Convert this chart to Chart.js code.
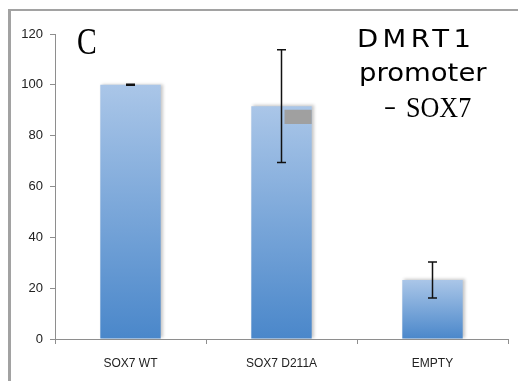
<!DOCTYPE html>
<html>
<head>
<meta charset="utf-8">
<script src="https://cdn.jsdelivr.net/npm/chart.js@4.4.1/dist/chart.umd.min.js"></script>
<style>
  html, body { margin: 0; padding: 0; background: #fff; overflow: hidden; }
  #wrap { position: relative; width: 518px; height: 381px; }
  #frame { position: absolute; left: 8px; top: 9px; width: 600px; height: 600px;
           border-left: 3px solid #a2a2a2; border-top: 2px solid #a2a2a2; }
  canvas { position: absolute; left: 0; top: 0; }
</style>
</head>
<body>
<div id="wrap">
  <div id="frame"></div>
  <canvas id="chart" width="518" height="381"></canvas>
</div>
<script>
const categories = ["SOX7 WT", "SOX7 D211A", "EMPTY"];
const values = [100, 91.6, 23.2];
const errors = [0.2, 22.2, 7.1];
// grey patch sitting on the second bar (range in axis units)
const patchRanges = [null, [84.6, 90.2], null];
const yTicks = [0, 20, 40, 60, 80, 100, 120];

const axisGrey = "#8e8e8e";
const tickFont = { family: "Liberation Sans", size: 12 };

// gradient per bar, light at top, darker blue at base
function barGradient(context) {
  const chart = context.chart;
  const y = chart.scales.y;
  if (!y || context.raw == null) return "#7aa3d6";
  const top = y.getPixelForValue(context.raw);
  const bottom = y.getPixelForValue(0);
  if (!isFinite(top) || !isFinite(bottom) || top === bottom) return "#7aa3d6";
  const g = chart.ctx.createLinearGradient(0, top, 0, bottom);
  g.addColorStop(0, "#aac6e8");
  g.addColorStop(1, "#4a87ca");
  return g;
}

const shadowPlugin = {
  id: "barShadow",
  beforeDatasetsDraw(chart) {
    const ctx = chart.ctx;
    ctx.save();
    ctx.shadowColor = "rgba(0,0,0,0.22)";
    ctx.shadowOffsetX = 2;
    ctx.shadowOffsetY = -1;
    ctx.shadowBlur = 3;
  },
  afterDatasetsDraw(chart) {
    chart.ctx.restore();
  }
};

const errorBarPlugin = {
  id: "errorBars",
  afterDatasetsDraw(chart) {
    const ctx = chart.ctx;
    const y = chart.scales.y;
    const meta = chart.getDatasetMeta(0);
    ctx.save();
    // grey patch
    meta.data.forEach((bar, i) => {
      const r = patchRanges[i];
      if (!r) return;
      const yTop = y.getPixelForValue(r[1]);
      const yBot = y.getPixelForValue(r[0]);
      ctx.fillStyle = "#a0a0a0";
      ctx.fillRect(bar.x + 3, yTop, bar.width / 2 - 3, yBot - yTop);
    });
    ctx.strokeStyle = "#111";
    ctx.lineWidth = 1.5;
    meta.data.forEach((bar, i) => {
      const e = errors[i];
      const cx = Math.round(bar.x) - 0.5;
      const yHi = y.getPixelForValue(values[i] + e);
      const yLo = y.getPixelForValue(values[i] - e);
      ctx.beginPath();
      ctx.moveTo(cx, yHi);
      ctx.lineTo(cx, yLo);
      ctx.moveTo(cx - 4.5, yHi);
      ctx.lineTo(cx + 4.5, yHi);
      ctx.moveTo(cx - 4.5, yLo);
      ctx.lineTo(cx + 4.5, yLo);
      ctx.stroke();
    });
    ctx.restore();
  }
};

const textPlugin = {
  id: "panelText",
  afterDraw(chart) {
    const ctx = chart.ctx;
    ctx.save();
    ctx.fillStyle = "#000";
    ctx.textBaseline = "alphabetic";
    ctx.textAlign = "left";
    // panel letter
    ctx.save();
    ctx.translate(77, 54);
    ctx.scale(0.8, 1);
    ctx.font = "37px 'Liberation Serif'";
    ctx.fillText("C", 0, 0);
    ctx.restore();
    // title block
    ctx.font = "25px 'DejaVu Sans'";
    ctx.save();
    ctx.translate(357, 47);
    ctx.scale(1.1, 1);
    ctx.letterSpacing = "4px";
    ctx.fillText("DMRT1", 0, 0);
    ctx.restore();
    ctx.save();
    ctx.translate(359, 81);
    ctx.scale(1.1, 1);
    ctx.letterSpacing = "0px";
    ctx.fillText("promoter", 0, 0);
    ctx.restore();
    ctx.font = "24px 'DejaVu Sans'";
    ctx.fillText("–", 384, 115);
    ctx.font = "30px 'Liberation Serif'";
    ctx.save();
    ctx.translate(406, 117);
    ctx.scale(0.87, 1);
    ctx.fillText("SOX7", 0, 0);
    ctx.restore();
    ctx.restore();
  }
};

new Chart(document.getElementById("chart"), {
  type: "bar",
  data: {
    labels: categories,
    datasets: [{
      data: values,
      backgroundColor: barGradient,
      borderWidth: 0,
      categoryPercentage: 1,
      barPercentage: 0.4
    }]
  },
  options: {
    responsive: false,
    animation: false,
    layout: { padding: { top: 34, right: 10, left: 0, bottom: 0 } },
    plugins: { legend: { display: false }, tooltip: { enabled: false } },
    scales: {
      x: {
        grid: { drawOnChartArea: false, tickLength: 5, color: axisGrey },
        border: { color: axisGrey, width: 1 },
        ticks: { font: tickFont, color: "#222", padding: 12 },
        afterFit(scale) { scale.height = 42; }
      },
      y: {
        min: 0,
        max: 120,
        afterBuildTicks(scale) { scale.ticks = yTicks.map(v => ({ value: v })); },
        grid: { drawOnChartArea: false, tickLength: 5, color: axisGrey },
        border: { color: axisGrey, width: 1 },
        ticks: { font: { family: "Liberation Sans", size: 13 }, color: "#222", padding: 7 },
        afterFit(scale) { scale.width = 55; }
      }
    }
  },
  plugins: [shadowPlugin, errorBarPlugin, textPlugin]
});
</script>
</body>
</html>
